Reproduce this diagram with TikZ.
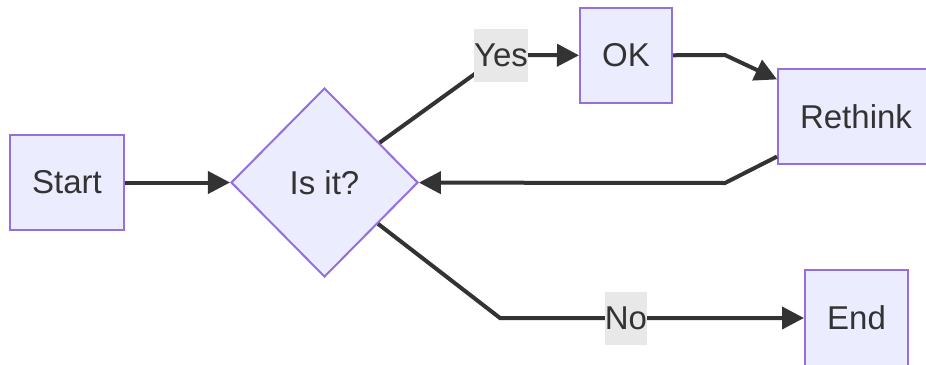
\documentclass[tikz,border=0pt]{standalone}
\usepackage{fontspec}
\setmainfont{Liberation Sans}
\usetikzlibrary{shapes.geometric,arrows.meta}
\definecolor{boxfill}{HTML}{ECECFF}
\definecolor{boxline}{HTML}{9370DB}
\definecolor{ink}{HTML}{333333}
\definecolor{lblfill}{HTML}{E8E8E8}

\begin{document}
\begin{tikzpicture}[x=0.5pt,y=-0.5pt,
  font=\fontsize{16.5}{20}\selectfont, text=ink,
  box/.style={draw=boxline, fill=boxfill, line width=1pt, inner sep=0pt, minimum height=47.5pt},
  choice/.style={diamond, draw=boxline, fill=boxfill, line width=1pt, inner sep=0pt,
    minimum width=93.5pt, minimum height=94.5pt},
  lbl/.style={fill=lblfill, inner sep=0pt, minimum height=26.5pt},
  arr/.style={draw=ink, line width=2pt, -{Triangle[length=11pt,width=11pt]}}]
\useasboundingbox (0,0) rectangle (926,364);

\node[box, minimum width=57pt] (start) at (67,182.5) {Start};
\node[choice] (isit) at (324.5,182.5) {Is it?};
\node[box, minimum width=46pt] (ok) at (626,55.5) {OK};
\node[box, minimum width=78pt] (rethink) at (856,116.5) {Rethink};
\node[box, minimum width=51.5pt, minimum height=48pt] (stop) at (856.5,318) {End};

% bends of the links
\coordinate (yes) at (501,55);
\coordinate (no) at (626,318);
\coordinate (bendok) at (725,55);
\coordinate (bendback) at (725,183);
\coordinate (bendno) at (500,318);

\draw[arr] (start) -- (isit);
\draw[arr] (isit) -- (yes) -- (ok);
\draw[arr] (ok) -- (bendok) -- (rethink);
\draw[arr] (rethink) -- (bendback) -- (isit);
\draw[arr] (isit) -- (bendno) -- (stop);

\node[lbl] (yeslbl) at (yes) {Yes};
\node[lbl] (nolbl) at (no) {No};

\end{tikzpicture}
\end{document}
